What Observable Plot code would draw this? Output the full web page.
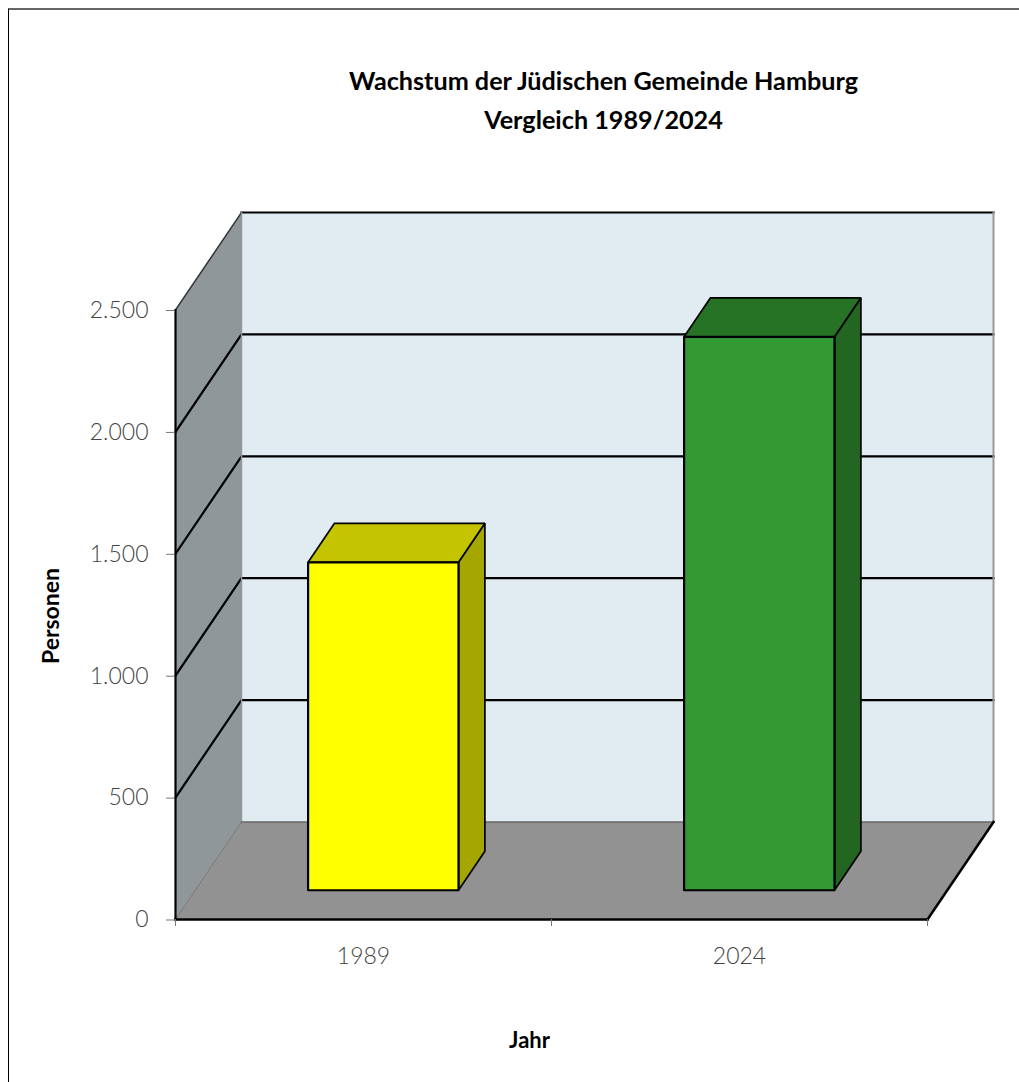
<!DOCTYPE html>
<html>
<head>
<meta charset="utf-8">
<script src="https://cdn.jsdelivr.net/npm/d3@7"></script>
<script src="https://cdn.jsdelivr.net/npm/@observablehq/plot@0.6"></script>
<style>
html,body{margin:0;padding:0;background:#fff;overflow:hidden}
#box{position:absolute;left:8px;top:8px;width:1011px;height:1074px;box-sizing:border-box;border-left:1px solid #000;border-top:2px solid #666}
#chart{position:absolute;left:0;top:0}
svg{display:block}
</style>
</head>
<body>
<div id="box"></div>
<div id="chart"></div>
<script>
const years = ["1989", "2024"];
const persons = [1345, 2270];
const yTicks = [0, 500, 1000, 1500, 2000, 2500];
const xEdges = [0, 1, 2];
const title = ["Wachstum der Jüdischen Gemeinde Hamburg", "Vergleich 1989/2024"];
const frontColors = ["#ffff00", "#339933"];
const topColors = ["#c4c400", "#267326"];
const sideColors = ["#a6a600", "#226622"];

// oblique projection: depth 0..1 moves a point right and up, in data units
const depthX = 0.1755, depthY = 400, yMax = 2500, barWidth = 0.4, d0 = 0.3, d1 = 0.7;
const p = (x, y, d = 0) => ({x: x + d * depthX, y: y + d * depthY});
const poly = (points, fill, stroke = "none", strokeWidth = 2) =>
  Plot.line([...points, points[0]], {x: "x", y: "y", fill, stroke, strokeWidth, curve: "linear", strokeLinejoin: "miter"});
const seg = (points, stroke, strokeWidth) =>
  Plot.line(points, {x: "x", y: "y", stroke, strokeWidth, curve: "linear", strokeLinecap: "square"});

const marks = [];
// walls and floor
marks.push(poly([p(0, 0), p(0, yMax), p(0, yMax, 1), p(0, 0, 1)], "#8f979a"));
marks.push(poly([p(0, 0, 1), p(0, yMax, 1), p(2, yMax, 1), p(2, 0, 1)], "#e1ebf2"));
marks.push(poly([p(0, 0), p(2, 0), p(2, 0, 1), p(0, 0, 1)], "#929292"));
// gridlines
for (const v of yTicks.filter(v => v > 0 && v < yMax)) {
  marks.push(seg([p(0, v), p(0, v, 1), p(2, v, 1)], "#000", 2.2));
}
// wall edges
marks.push(seg([p(0, yMax), p(0, yMax, 1)], "#333", 1.5));
marks.push(seg([p(0, yMax, 1), p(2, yMax, 1)], "#000", 2.2));
marks.push(seg([p(0, yMax, 1), p(0, 0, 1)], "#999", 1.5));
marks.push(seg([p(2, yMax, 1), p(2, 0, 1)], "#999", 2));
marks.push(seg([p(0, 0, 1), p(2, 0, 1)], "#666", 1.5));
marks.push(seg([p(0, 0), p(0, 0, 1)], "#777", 1));
// front axis lines and right floor edge
marks.push(seg([p(0, 0), p(0, yMax)], "#000", 2.2));
marks.push(seg([p(0, 0), p(2, 0)], "#000", 2.5));
marks.push(seg([p(2, 0), p(2, 0, 1)], "#000", 2.5));

// bars
persons.forEach((v, i) => {
  const x0 = i + 0.5 - barWidth / 2, x1 = i + 0.5 + barWidth / 2;
  marks.push(poly([p(x1, 0, d0), p(x1, 0, d1), p(x1, v, d1), p(x1, v, d0)], sideColors[i], "#000", 1.7));
  marks.push(poly([p(x0, v, d0), p(x1, v, d0), p(x1, v, d1), p(x0, v, d1)], topColors[i], "#000", 1.7));
  marks.push(poly([p(x0, 0, d0), p(x1, 0, d0), p(x1, v, d0), p(x0, v, d0)], frontColors[i], "#000", 2.2));
});

const font = "Lato, 'Open Sans', sans-serif";
// axes
marks.push(Plot.axisY(yTicks, {
  anchor: "left", label: null, tickSize: 9, tickPadding: 18, stroke: "#777", dy: 0.5,
  tickFormat: d => d3.format(",")(d).replace(/,/g, "."),
  fontSize: 23, fontWeight: 300, fill: "#444", fontFamily: font
}));
marks.push(Plot.axisX(xEdges, {
  anchor: "bottom", label: null, tickSize: 7, tickFormat: () => "", stroke: "#777"
}));
marks.push(Plot.text(years, {
  x: (d, i) => i + 0.5, y: 0, dy: 37, text: d => d, fontSize: 23, fontWeight: 300,
  fill: "#444", fontFamily: font, lineAnchor: "middle"
}));
// titles
const boldText = {fontWeight: 700, fill: "#000", fontFamily: font, lineAnchor: "middle", textAnchor: "middle"};
marks.push(Plot.text([title[0]], {frameAnchor: "top", dx: 19, dy: -131, text: d => d, fontSize: 25.2, ...boldText}));
marks.push(Plot.text([title[1]], {frameAnchor: "top", dx: 19, dy: -92, text: d => d, fontSize: 25.2, ...boldText}));
marks.push(Plot.text(["Personen"], {frameAnchor: "left", dx: -124, dy: 50, rotate: -90, text: d => d, fontSize: 23, ...boldText}));
marks.push(Plot.text(["Jahr"], {frameAnchor: "bottom", dx: -55, dy: 121, text: d => d, fontSize: 22, ...boldText}));

const chart = Plot.plot({
  width: 1019, height: 1082,
  marginLeft: 175, marginRight: 26, marginTop: 212, marginBottom: 163,
  x: {domain: [0, 2 + depthX], axis: null},
  y: {domain: [0, yMax + depthY], axis: null},
  style: {background: "transparent", overflow: "visible"},
  marks
});
document.getElementById("chart").append(chart);
</script>
</body>
</html>
